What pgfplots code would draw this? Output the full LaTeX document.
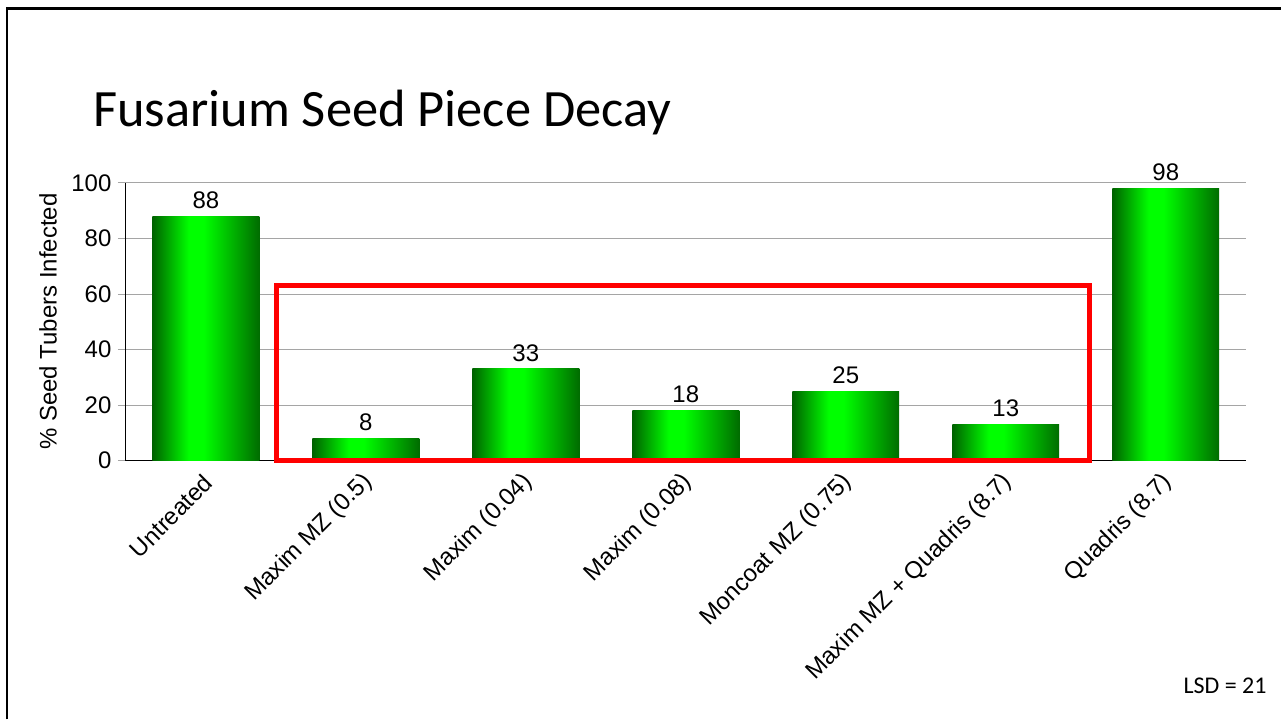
\documentclass[border=0pt]{standalone}
\usepackage{pgfplots}
\pgfplotsset{compat=1.18}
\usepackage{fontspec}
\setmainfont{Liberation Sans}
\newfontfamily\calibri{Carlito}
\definecolor{dkg}{RGB}{0,98,0}
\definecolor{dkgb}{RGB}{0,108,0}
\definecolor{ltg}{RGB}{0,255,0}
\definecolor{gridc}{RGB}{165,165,165}
\pgfdeclarehorizontalshading{barsh}{100bp}{color(0bp)=(dkg); color(25bp)=(dkg); color(42bp)=(ltg); color(49bp)=(ltg); color(75bp)=(dkgb); color(100bp)=(dkgb)}
\newcommand{\lblfont}{\fontsize{24bp}{28bp}\selectfont}
\pgfplotsset{gbar/.style={ybar, bar width=107bp, bar shift=0pt, draw=none, shading=barsh,
  nodes near coords, nodes near coords style={font=\lblfont, anchor=south, yshift=4bp, text=black}}}
\begin{document}
\begin{tikzpicture}
\fill[white] (0bp,0bp) rectangle (1282bp,720bp);
\draw[black, line width=2.5bp] (7bp,0bp) -- (7bp,711.5bp) -- (1282bp,711.5bp);
\node[anchor=base west, inner sep=0, font=\calibri\fontsize{52.5bp}{60bp}\selectfont] at (93bp,593bp) {Fusarium Seed Piece Decay};
\node[anchor=east, inner sep=0, font=\calibri\fontsize{24bp}{28bp}\selectfont] at (1268bp,34bp) {LSD = 21};
\begin{axis}[
  at={(126bp,259bp)}, anchor=south west,
  scale only axis, width=1121bp, height=278bp,
  xmin=-0.5, xmax=6.5, ymin=0, ymax=100,
  ytick={0,20,...,100},
  xtick={0,...,6},
  xticklabels={Untreated, Maxim MZ (0.5), Maxim (0.04), Maxim (0.08), Moncoat MZ (0.75), Maxim MZ + Quadris (8.7), Quadris (8.7)},
  extra x ticks={-0.5,0.5,...,6.5},
  extra x tick labels={},
  extra x tick style={major tick length=8bp, tick style={gridc, line width=0.8bp}, grid=none},
  x tick style={draw=none},
  y tick style={gridc, line width=0.8bp},
  major tick length=8bp,
  tick align=outside,
  axis x line*=bottom, axis y line*=left,
  axis line style={black, line width=1bp},
  ymajorgrids, grid style={gridc, line width=0.8bp},
  /pgf/number format/assume math mode=true,
  tick label style={font=\lblfont},
  y tick label style={xshift=-3bp},
  x tick label style={rotate=45, anchor=east, yshift=-9bp, xshift=-2bp},
  every axis y label/.style={at={(axis description cs:-0.0696,0.5)}, rotate=90, anchor=center, font=\lblfont},
  ylabel={\% Seed Tubers Infected},
  clip=false,
]
\addplot[gbar] coordinates {(0,88)};
\addplot[gbar] coordinates {(1,8)};
\addplot[gbar] coordinates {(2,33)};
\addplot[gbar] coordinates {(3,18)};
\addplot[gbar] coordinates {(4,25)};
\addplot[gbar] coordinates {(5,13)};
\addplot[gbar] coordinates {(6,98)};
\draw[red, line width=5bp] (axis cs:0.44,0) rectangle (axis cs:5.523,63.1);
\end{axis}
\end{tikzpicture}
\end{document}
